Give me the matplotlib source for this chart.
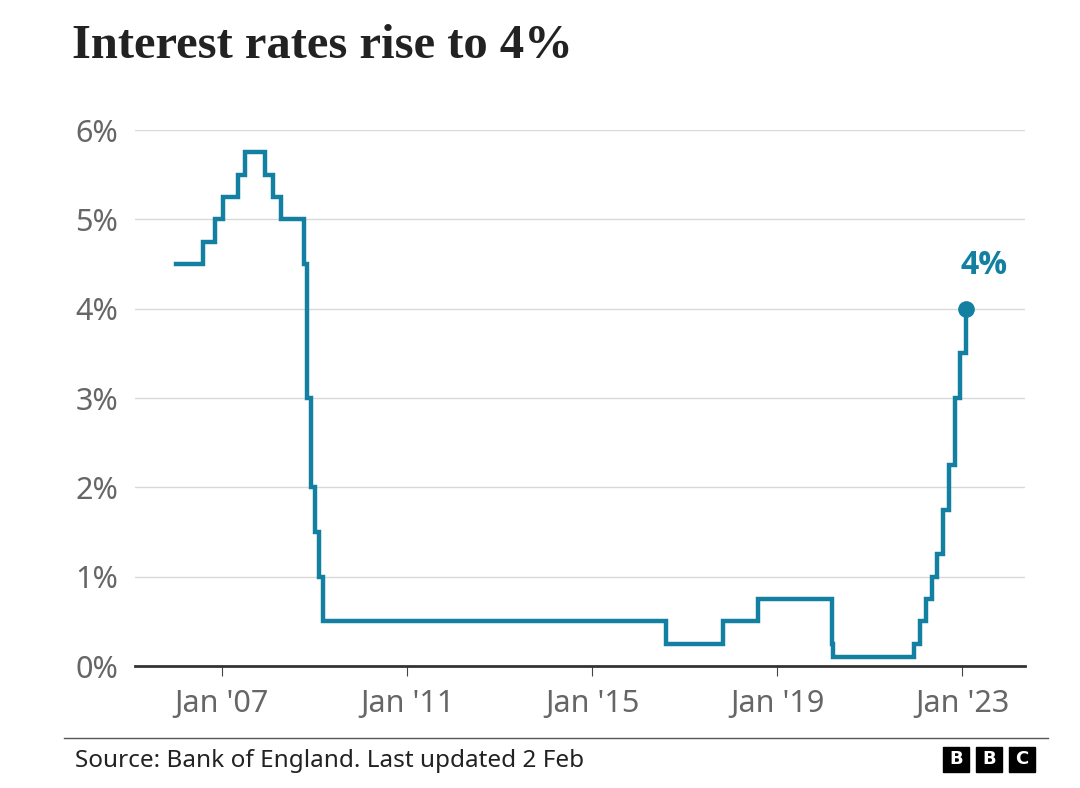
import matplotlib.pyplot as plt
import pandas as pd
from matplotlib.patches import Rectangle

# Bank rate changes (date of change, new rate %)
change_dates = [
    "2006-01-05", "2006-08-03", "2006-11-09", "2007-01-11", "2007-05-10",
    "2007-07-05", "2007-12-06", "2008-02-07", "2008-04-10", "2008-10-08",
    "2008-11-06", "2008-12-04", "2009-01-08", "2009-02-05", "2009-03-05",
    "2016-08-04", "2017-11-02", "2018-08-02", "2020-03-11", "2020-03-19",
    "2021-12-16", "2022-02-03", "2022-03-17", "2022-05-05", "2022-06-16",
    "2022-08-04", "2022-09-22", "2022-11-03", "2022-12-15", "2023-02-02",
]
rates = [
    4.5, 4.75, 5.0, 5.25, 5.5,
    5.75, 5.5, 5.25, 5.0, 4.5,
    3.0, 2.0, 1.5, 1.0, 0.5,
    0.25, 0.5, 0.75, 0.25, 0.1,
    0.25, 0.5, 0.75, 1.0, 1.25,
    1.75, 2.25, 3.0, 3.5, 4.0,
]
y_ticks = [0, 1, 2, 3, 4, 5, 6]
x_tick_dates = ["2007-01-01", "2011-01-01", "2015-01-01", "2019-01-01", "2023-01-01"]
x_tick_labels = ["Jan '07", "Jan '11", "Jan '15", "Jan '19", "Jan '23"]

dates = pd.to_datetime(change_dates)
teal = "#1380A1"
grey = "#666666"
sans = "Noto Sans"

W, H = 1080, 788
fig = plt.figure(figsize=(W / 100, H / 100), dpi=100)
ax = fig.add_axes([135 / W, (H - 666) / H, 890 / W, (666 - 130) / H])

ax.plot(dates, rates, drawstyle="steps-post", color=teal, lw=3.2,
        solid_joinstyle="miter", clip_on=False, zorder=3)
ax.plot(dates[-1], rates[-1], "o", color=teal, ms=11, clip_on=False, zorder=4)
ax.annotate(f"{rates[-1]:g}%", (dates[-1], rates[-1]), xytext=(18, 35),
            textcoords="offset pixels", ha="center", va="baseline",
            color=teal, fontsize=23, fontweight="bold",
            family=["Open Sans", "DejaVu Sans"])

ax.set_xlim(pd.Timestamp("2005-02-14"), pd.Timestamp("2024-05-10"))
ax.set_ylim(0, 6)

ax.set_yticks(y_ticks)
ax.set_yticklabels([f"{t}%" for t in y_ticks])
ax.set_xticks(pd.to_datetime(x_tick_dates))
ax.set_xticklabels(x_tick_labels)

for t in y_ticks[1:]:
    ax.axhline(t, color="#d9d9d9", lw=1, zorder=1)

for s in ["top", "right", "left"]:
    ax.spines[s].set_visible(False)
ax.spines["bottom"].set_color("#333333")
ax.spines["bottom"].set_linewidth(2)
ax.spines["bottom"].set_zorder(5)

ax.tick_params(axis="y", length=0, pad=12, labelsize=22, labelcolor=grey)
ax.tick_params(axis="x", length=7.5, width=0.8, color="#444444", pad=9,
               labelsize=22, labelcolor=grey)
for lbl in ax.get_xticklabels() + ax.get_yticklabels():
    lbl.set_family(sans)

fig.text(72 / W, 1 - 58 / H, "Interest rates rise to 4%", ha="left",
         va="baseline", fontsize=35, fontweight="bold",
         family="Liberation Serif", color="#222222")

# footer
fig.add_artist(plt.Line2D([64 / W, 1048 / W], [1 - 738 / H, 1 - 738 / H],
                          color="#555555", lw=1))
fig.text(75 / W, 1 - 767 / H, "Source: Bank of England. Last updated 2 Feb",
         ha="left", va="baseline", fontsize=17.5, family=sans, color="#222222")

for i, letter in enumerate("BBC"):
    x0 = 943 + i * 33
    fig.add_artist(Rectangle((x0 / W, 1 - 772 / H), 26 / W, 25 / H,
                             transform=fig.transFigure, color="black"))
    fig.text((x0 + 13) / W, 1 - 759.5 / H, letter, ha="center", va="center",
             color="white", fontsize=13, fontweight="bold", family="DejaVu Sans")

fig.savefig("out.png", dpi=100)
